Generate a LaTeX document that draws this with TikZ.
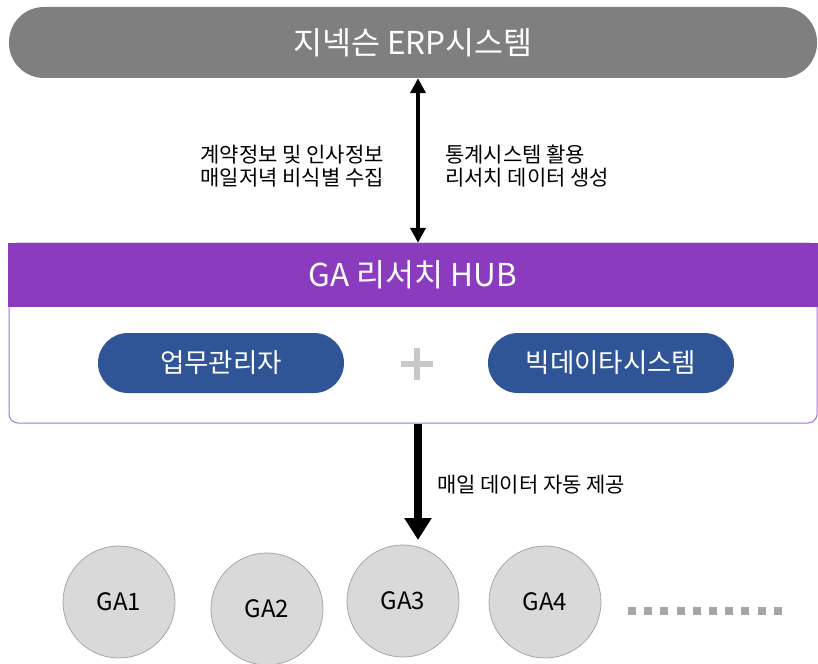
\documentclass[tikz,border=0pt]{standalone}
\usepackage{fontspec}
\setmainfont{Noto Sans CJK KR}
\usetikzlibrary{arrows.meta}
\definecolor{pillgray}{HTML}{7F7F7F}
\definecolor{hubpurple}{HTML}{8A3BBE}
\definecolor{pillblue}{HTML}{2F5597}
\definecolor{gacircle}{HTML}{D9D9D9}
\definecolor{gaborder}{HTML}{A6A6A6}
\definecolor{plusgray}{HTML}{C8C8C8}
\definecolor{dotgray}{HTML}{A6A6A6}
\definecolor{boxborder}{HTML}{A277D2}
\tikzset{
  titlepill/.style={fill=pillgray, rounded corners=35pt, minimum width=808pt, minimum height=71pt, inner sep=0pt, text=white, font=\fontsize{31.5}{34}\selectfont},
  hubbar/.style={fill=hubpurple, minimum width=810pt, minimum height=64pt, inner sep=0pt, text=white, font=\fontsize{31.5}{34}\selectfont},
  hubframe/.style={draw=boxborder, line width=1pt, fill=white, rounded corners=9pt, minimum width=808pt, minimum height=180pt, inner sep=0pt},
  bluepill/.style={fill=pillblue, rounded corners=30pt, minimum width=246pt, minimum height=60pt, inner sep=0pt, text=white, font=\fontsize{26.5}{30}\selectfont},
  gacirc/.style={circle, fill=gacircle, draw=gaborder, line width=0.8pt, minimum size=112pt, inner sep=0pt, font=\fontsize{24}{27}\selectfont},
  notetext/.style={inner sep=0pt, font=\fontsize{21}{23}\selectfont},
  thinarrow/.style={line width=4.5pt, {Triangle[width=15pt,length=15pt]}-{Triangle[width=15pt,length=15pt]}},
  bigarrow/.style={line width=8pt, -{Triangle[width=26pt,length=22pt]}},
  plusbar/.style={draw=plusgray, line width=6pt},
  dotrow/.style={draw=dotgray, line width=8pt, dash pattern=on 8pt off 8.2pt}
}
\begin{document}
\begin{tikzpicture}[x=1pt,y=-1pt]
\useasboundingbox (0,0) rectangle (818,663);
\fill[white] (0,0) rectangle (818,663);

% top ERP pill
\node[titlepill] (erp) at (413,42.5) {지넥슨 ERP시스템};

% hub frame and bar
\node[hubframe] (hubbox) at (413,333) {};
\node[hubbar] (hub) at (413,275) {GA 리서치 HUB};

% blue pills
\node[bluepill] (mgr) at (221,363) {업무관리자};
\node[bluepill] (bigdata) at (611,363) {빅데이타시스템};

% plus sign
\coordinate (plus) at (417,364);
\draw[plusbar] ([xshift=-16pt]plus) -- ([xshift=16pt]plus);
\draw[plusbar] ([yshift=-16pt]plus) -- ([yshift=16pt]plus);

% vertical axis for arrows
\coordinate (ax) at (418,0);
\draw[thinarrow] (erp.south -| ax) -- (hub.north -| ax);

\node[notetext, anchor=east, align=right] (leftnote) at (384,166) {계약정보 및 인사정보\\매일저녁 비식별 수집};
\node[notetext, anchor=west, align=left] (rightnote) at (445,166) {통계시스템 활용\\리서치 데이터 생성};

% down arrow
\coordinate (gatarget) at (418,540);
\draw[bigarrow] (hubbox.south -| ax) -- (gatarget);
\node[notetext, anchor=west] (dailynote) at (437,485) {매일 데이터 자동 제공};

% GA circles
\node[gacirc] (ga1) at (119,602) {GA1};
\node[gacirc] (ga2) at (267,609) {GA2};
\node[gacirc] (ga3) at (403,601) {GA3};
\node[gacirc] (ga4) at (545,602) {GA4};

% dotted continuation
\coordinate (dotsA) at (628,611);
\coordinate (dotsB) at (783,611);
\draw[dotrow] (dotsA) -- (dotsB);
\end{tikzpicture}
\end{document}
